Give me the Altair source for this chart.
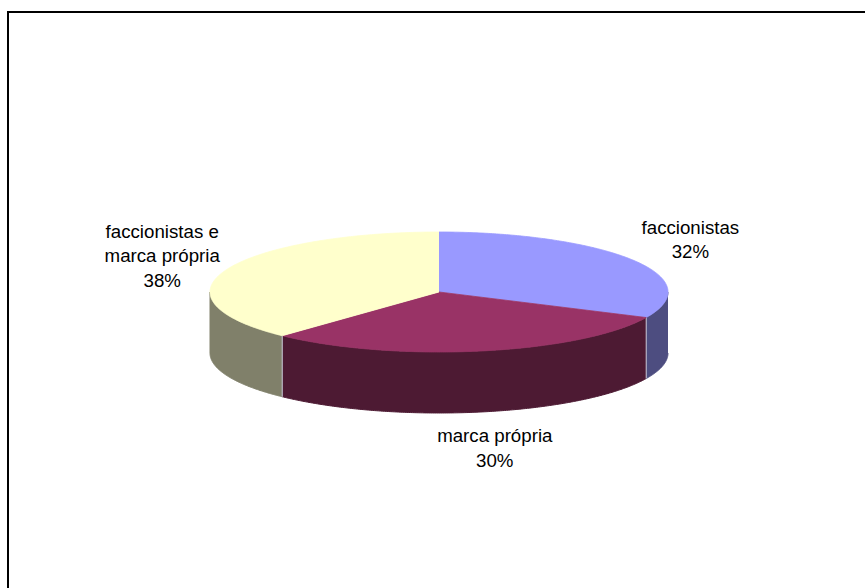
import numpy as np
import pandas as pd
import altair as alt

# ---- data ----
SLICES = ["faccionistas", "marca própria", "faccionistas e marca própria"]
VALUES = [32, 30, 38]
LABELS = ["faccionistas", "marca própria", "faccionistas e\nmarca própria"]

# ---- styles ----
TOP_COLORS = ["#9999FF", "#993366", "#FFFFCC"]
SIDE_COLORS = ["#4D4D80", "#4D1A33", "#80806A"]

W, H = 857, 576          # plot area
PAD_L, PAD_T = 8, 12
CX, CY = 439, 292        # pie centre in page pixels
RX, RY, DEPTH = 229, 60, 61
LAB_FX, LAB_FY = 1.3, 1.62
FONT_SIZE, LINE_H = 18.7, 24.5

total = float(sum(VALUES))
bounds = np.concatenate([[0.0], np.cumsum(VALUES)]) / total * 360.0


def ept(theta, drop=0.0):
    t = np.radians(theta)
    return RX * np.sin(t), RY * np.cos(t) - drop


top_rows, side_rows, seam_rows, lab_rows = [], [], [], []
for k, name in enumerate(SLICES):
    a0, a1 = bounds[k], bounds[k + 1]
    # top face polygon
    top_rows.append(dict(top_slice=name, i=0, x=0.0, y=0.0))
    n = max(int(a1 - a0) * 2, 4)
    for j, th in enumerate(np.linspace(a0, a1, n)):
        x, y = ept(th)
        top_rows.append(dict(top_slice=name, i=j + 1, x=x, y=y))
    # visible side (front half)
    lo, hi = max(a0, 90.0), min(a1, 270.0)
    if hi > lo:
        ths = np.linspace(lo, hi, max(int(hi - lo) * 2, 4))
        idx = 0
        for th in ths:
            x, y = ept(th)
            side_rows.append(dict(side_slice=name, i=idx, x=x, y=y)); idx += 1
        for th in ths[::-1]:
            x, y = ept(th, DEPTH)
            side_rows.append(dict(side_slice=name, i=idx, x=x, y=y)); idx += 1
    # seam between side pieces
    if 90.0 < a1 < 270.0 and k < len(SLICES) - 1:
        x, y = ept(a1)
        seam_rows.append(dict(x=x, y=y, y2=y - DEPTH))
    # label (block centred on its anchor)
    text = f"{LABELS[k]}\n{VALUES[k]}%"
    nlines = text.count("\n") + 1
    mid = (a0 + a1) / 2.0
    t = np.radians(mid)
    lx = LAB_FX * RX * np.sin(t)
    ly = LAB_FY * RY * np.cos(t) - (DEPTH if np.cos(t) < 0 else 0)
    ly += (nlines - 1) * LINE_H / 2.0
    lab_rows.append(dict(label=text, x=lx, y=ly))

top_df = pd.DataFrame(top_rows)
side_df = pd.DataFrame(side_rows)
seam_df = pd.DataFrame(seam_rows)
lab_df = pd.DataFrame(lab_rows)

xs = alt.Scale(domain=[PAD_L - CX, PAD_L - CX + W], nice=False, zero=False)
ys = alt.Scale(domain=[CY - PAD_T - H, CY - PAD_T], nice=False, zero=False)
X = lambda f="x": alt.X(f"{f}:Q", scale=xs, axis=None)
Y = lambda f="y": alt.Y(f"{f}:Q", scale=ys, axis=None)

sides = alt.Chart(side_df).mark_line(strokeWidth=1).encode(
    x=X(), y=Y(),
    fill=alt.Fill("side_slice:N", scale=alt.Scale(domain=SLICES, range=SIDE_COLORS), legend=None),
    stroke=alt.Stroke("side_slice:N", scale=alt.Scale(domain=SLICES, range=SIDE_COLORS), legend=None),
    order=alt.Order("i:Q"),
)

seams = alt.Chart(seam_df).mark_rule(color="#C8C8D8", strokeWidth=1).encode(
    x=X(), y=Y(), y2="y2:Q"
)

tops = alt.Chart(top_df).mark_line(strokeWidth=0.8).encode(
    x=X(), y=Y(),
    fill=alt.Fill("top_slice:N", scale=alt.Scale(domain=SLICES, range=TOP_COLORS), legend=None),
    stroke=alt.Stroke("top_slice:N", scale=alt.Scale(domain=SLICES, range=TOP_COLORS), legend=None),
    order=alt.Order("i:Q"),
)

labels = alt.Chart(lab_df).mark_text(
    font="Liberation Sans", fontSize=FONT_SIZE, lineHeight=LINE_H, lineBreak="\n",
    align="center", baseline="middle", color="black"
).encode(x=X(), y=Y(), text="label:N")

frame_v = alt.Chart(pd.DataFrame({"a": [0]})).mark_rule(color="black", strokeWidth=2).encode(
    x=alt.value(0), y=alt.value(0), y2=alt.value(H)
)
frame_h = alt.Chart(pd.DataFrame({"a": [0]})).mark_rule(color="black", strokeWidth=2).encode(
    y=alt.value(0), x=alt.value(-1), x2=alt.value(W)
)

chart = alt.layer(sides, seams, tops, labels, frame_v, frame_h).resolve_scale(
    fill="independent", stroke="independent"
).properties(
    width=W, height=H,
    autosize=alt.AutoSizeParams(type="none"),
    padding={"left": PAD_L, "top": PAD_T, "right": 0, "bottom": 0},
    background="white",
).configure_view(stroke=None)

chart.save("out.html", embed_options={"renderer": "svg", "actions": False})
